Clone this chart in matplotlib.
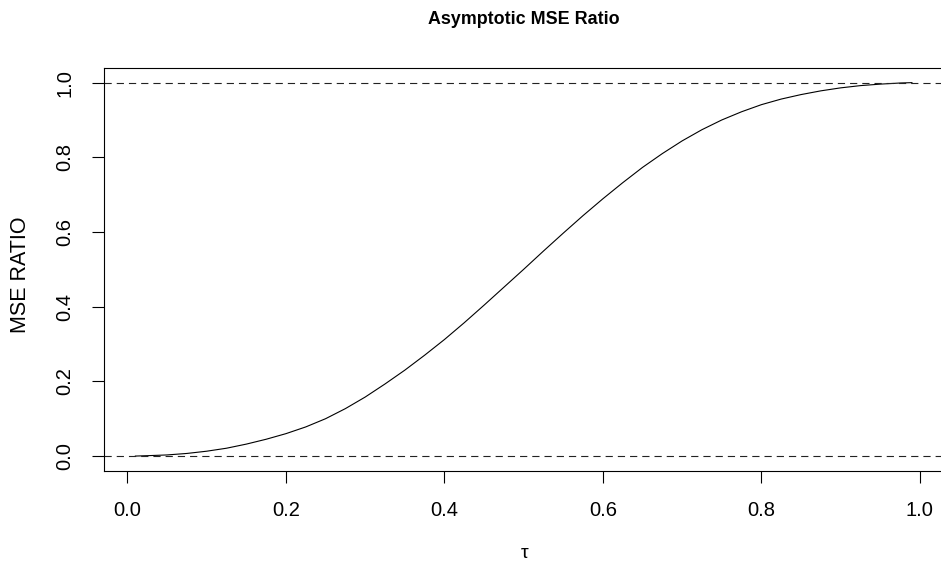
import matplotlib
matplotlib.use("Agg")
import matplotlib.pyplot as plt

# values
tau = [0.01, 0.025, 0.05, 0.075, 0.10, 0.125, 0.15, 0.175, 0.20, 0.225,
       0.25, 0.275, 0.30, 0.325, 0.35, 0.375, 0.40, 0.425, 0.45, 0.475,
       0.50, 0.525, 0.55, 0.575, 0.60, 0.625, 0.65, 0.675, 0.70, 0.725,
       0.75, 0.775, 0.80, 0.825, 0.85, 0.875, 0.90, 0.925, 0.95, 0.975, 0.99]
mse_ratio = [0.0, 0.001, 0.003, 0.007, 0.013, 0.021, 0.032, 0.045, 0.060, 0.078,
             0.100, 0.127, 0.158, 0.193, 0.230, 0.270, 0.312, 0.357, 0.404, 0.452,
             0.500, 0.549, 0.597, 0.644, 0.689, 0.732, 0.773, 0.810, 0.844, 0.874,
             0.900, 0.922, 0.941, 0.956, 0.968, 0.978, 0.986, 0.992, 0.996, 0.999, 1.0]
ref_levels = [0.0, 1.0]
ticks = [0.0, 0.2, 0.4, 0.6, 0.8, 1.0]
tick_labels = ["0.0", "0.2", "0.4", "0.6", "0.8", "1.0"]

plt.rcParams.update({
    "font.family": ["Liberation Sans", "DejaVu Sans"],
})

W, H = 941, 566
fig = plt.figure(figsize=(W / 100, H / 100), dpi=100)
left, right, top, bottom = 104.3, 943.0, 67.7, 471.0
ax = fig.add_axes([left / W, 1 - bottom / H, (right - left) / W, (bottom - top) / H])

ax.plot(tau, mse_ratio, color="black", linewidth=0.8)
for lev in ref_levels:
    ax.axhline(lev, color="#222222", linewidth=0.8, linestyle=(0, (6.5, 4.5)))

ax.set_xlim(-0.0292, 1.0292)
ax.set_ylim(-0.04, 1.04)

ax.set_xticks(ticks)
ax.set_xticklabels(tick_labels)
ax.set_yticks(ticks)
ax.set_yticklabels(tick_labels, rotation=90, va="center")
ax.tick_params(direction="out", length=8.4, width=0.8, colors="black", labelsize=14.5)
ax.tick_params(axis="x", pad=13)
ax.tick_params(axis="y", pad=13)
for sp in ax.spines.values():
    sp.set_linewidth(0.8)
    sp.set_color("black")

fig.text(523.6 / W, 1 - 19 / H, "Asymptotic MSE Ratio", ha="center", va="center",
         fontsize=12.9, fontweight="bold")
fig.text(21 / W, 1 - 275 / H, "MSE RATIO", ha="center", va="center",
         rotation=90, fontsize=15.5)
fig.text(525 / W, 1 - 553 / H, "τ", ha="center", va="center", fontsize=14)

fig.savefig("out.png", dpi=100, facecolor="white")
